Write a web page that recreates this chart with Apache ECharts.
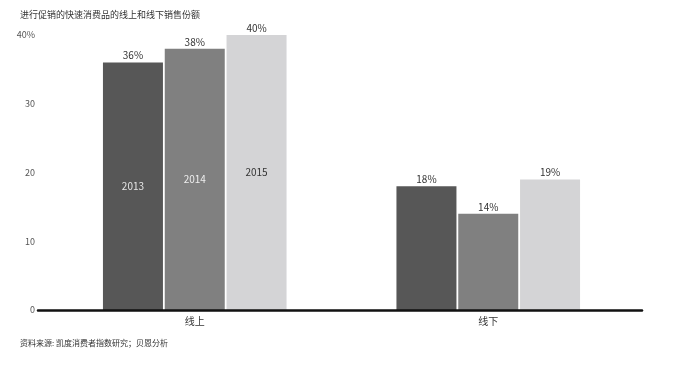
<!DOCTYPE html>
<html><head><meta charset="utf-8">
<script src="https://cdn.jsdelivr.net/npm/echarts@6/dist/echarts.min.js"></script>
<style>html,body{margin:0;padding:0;background:#fff}#c{width:674px;height:368px}</style>
</head><body><div id="c"></div>
<script>
const categories = ['线上', '线下'];
const years = ['2013', '2014', '2015'];
const values2013 = [36, 18];
const values2014 = [38, 14];
const values2015 = [40, 19];
const yTicks = ['0', '10', '20', '30', '40%'];
const titleText = '进行促销的快速消费品的线上和线下销售份额';
const sourceText = '资料来源: 凯度消费者指数研究；贝恩分析';

const colors = ['#575757', '#808080', '#d4d4d6'];
const innerColors = ['#e6e6e6', '#eeeeee', '#333333'];
const allValues = [values2013, values2014, values2015];
const font = '"Noto Sans CJK SC", "Noto Sans", sans-serif';

const chart = echarts.init(document.getElementById('c'), null, {renderer: 'canvas'});
const series = [];
allValues.forEach((vals, i) => {
  series.push({
    name: years[i], type: 'bar', xAxisIndex: 0, yAxisIndex: 0,
    data: vals, barWidth: 60, barGap: '3%',
    itemStyle: {color: colors[i]},
    label: {show: true, position: 'top', distance: 2, formatter: '{c}%',
      color: '#333', fontSize: 10, fontFamily: font}
  });
});
allValues.forEach((vals, i) => {
  series.push({
    name: years[i] + '-inner', type: 'bar', xAxisIndex: 1, yAxisIndex: 0,
    data: vals, barWidth: 60, barGap: '3%', silent: true,
    itemStyle: {color: 'rgba(0,0,0,0)'},
    label: {show: true, position: 'inside',
      formatter: p => p.dataIndex === 0 ? years[i] : '',
      color: innerColors[i], fontSize: 10, fontFamily: font}
  });
});

chart.setOption({
  animation: false,
  title: [
    {text: titleText, left: 15, top: 5, textStyle: {fontSize: 9, fontWeight: 'normal', color: '#333', fontFamily: font}},
    {text: sourceText, left: 15, top: 334, textStyle: {fontSize: 8, fontWeight: 'normal', color: '#333', fontFamily: font}}
  ],
  grid: [
    {left: 48, right: 39, top: 35, bottom: 58, containLabel: false},
    {left: 38, right: 32, top: 35, bottom: 58, containLabel: false}
  ],
  xAxis: [
    {type: 'category', data: categories, gridIndex: 0,
      axisLine: {show: false},
      axisTick: {show: false},
      axisLabel: {color: '#333', fontSize: 10, margin: 6, fontFamily: font}},
    {type: 'category', data: categories, gridIndex: 0, show: false},
    {type: 'value', gridIndex: 1, min: 0, max: 1, z: 5,
      axisLine: {show: true, lineStyle: {color: '#111', width: 2.5}},
      axisTick: {show: false}, axisLabel: {show: false}, splitLine: {show: false}}
  ],
  yAxis: [
    {type: 'value', gridIndex: 0, min: 0, max: 40, interval: 10,
      axisLine: {show: false}, axisTick: {show: false}, splitLine: {show: false},
      axisLabel: {color: '#555', fontSize: 9, margin: 13, fontFamily: font,
        formatter: (v) => yTicks[Math.round(v / 10)]}},
    {type: 'value', gridIndex: 1, min: 0, max: 1, show: false}
  ],
  series: series
});
</script></body></html>
